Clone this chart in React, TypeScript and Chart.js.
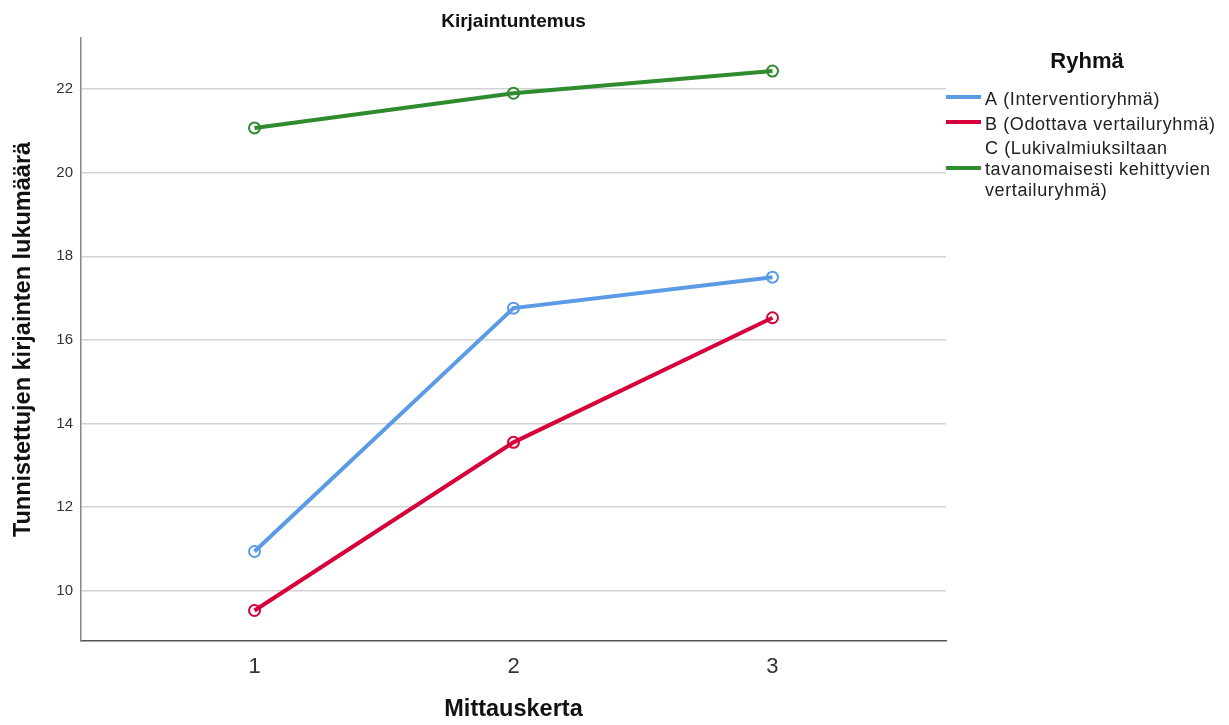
import React, { useEffect, useRef } from "react";
import { Chart, registerables } from "chart.js";

Chart.register(...registerables);

const measurements = [1, 2, 3];
const groupA = [10.94, 16.76, 17.5];
const groupB = [9.53, 13.55, 16.53];
const groupC = [21.07, 21.9, 22.43];

const seriesLabels = [
  ["A (Interventioryhmä)"],
  ["B (Odottava vertailuryhmä)"],
  ["C (Lukivalmiuksiltaan", "tavanomaisesti kehittyvien", "vertailuryhmä)"],
];
const seriesColors = ["#5b9be6", "#d6003a", "#2e8b2e"];
const titleText = "Kirjaintuntemus";
const legendTitle = "Ryhmä";
const xTitle = "Mittauskerta";
const yTitle = "Tunnistettujen kirjainten lukumäärä";
const yMin = 8.8;
const yMax = 23.22;
const xMin = 0.33;
const xMax = 3.67;

const FONT = "'Liberation Sans', Arial, sans-serif";

const overlayPlugin = {
  id: "overlay",
  afterDraw(chart: any) {
    const ctx = chart.ctx;
    const area = chart.chartArea;
    ctx.save();
    // title
    ctx.fillStyle = "#111";
    ctx.font = `bold 19px ${FONT}`;
    ctx.textAlign = "center";
    ctx.textBaseline = "middle";
    ctx.fillText(titleText, (area.left + area.right) / 2, 22);

    // legend title
    ctx.font = `bold 22px ${FONT}`;
    ctx.fillText(legendTitle, 1087, 62);

    // legend items
    const lineYs = [97, 122, 168];
    const textYs = [[100], [125], [149, 170, 191]];
    ctx.textAlign = "left";
    ctx.font = `18px ${FONT}`;
    try {
      (ctx as any).letterSpacing = "0.6px";
    } catch (e) {}
    seriesLabels.forEach((lines, i) => {
      ctx.strokeStyle = seriesColors[i];
      ctx.lineWidth = 4;
      ctx.beginPath();
      ctx.moveTo(946, lineYs[i]);
      ctx.lineTo(981, lineYs[i]);
      ctx.stroke();
      ctx.fillStyle = "#222";
      lines.forEach((t, j) => {
        ctx.fillText(t, 985, textYs[i][j]);
      });
    });
    try {
      (ctx as any).letterSpacing = "0px";
    } catch (e) {}
    ctx.restore();
  },
};

export default function App() {
  const ref = useRef<HTMLCanvasElement | null>(null);
  useEffect(() => {
    if (!ref.current) return;
    const mk = (vals: number[], i: number) => ({
      label: seriesLabels[i].join(" "),
      data: measurements.map((m, k) => ({ x: m, y: vals[k] })),
      borderColor: seriesColors[i],
      backgroundColor: seriesColors[i],
      borderWidth: 4,
      pointRadius: 5.5,
      pointBorderWidth: 2,
      pointBackgroundColor: "rgba(255,255,255,0)",
      pointBorderColor: seriesColors[i],
      tension: 0,
    });
    const chart = new Chart(ref.current, {
      type: "line",
      data: {
        datasets: [mk(groupA, 0), mk(groupB, 1), mk(groupC, 2)],
      },
      plugins: [overlayPlugin],
      options: {
        animation: false,
        responsive: false,
        devicePixelRatio: 1,
        layout: { padding: { top: 38, right: 283, left: 0, bottom: 0 } },
        plugins: {
          legend: { display: false },
          title: { display: false },
          tooltip: { enabled: false },
        },
        scales: {
          x: {
            type: "linear",
            min: xMin,
            max: xMax,
            afterFit: (s: any) => {
              s.height = 84;
            },
            grid: { display: false, drawTicks: false },
            border: { display: true, color: "#555", width: 1.5 },
            ticks: {
              stepSize: 1,
              includeBounds: false,
              padding: 13,
              color: "#333",
              font: { family: FONT, size: 22 },
            },
            title: {
              display: true,
              text: xTitle,
              color: "#111",
              font: { family: FONT, size: 23.5, weight: "bold" },
              padding: { top: 0, bottom: 1 },
            },
          },
          y: {
            type: "linear",
            min: yMin,
            max: yMax,
            afterFit: (s: any) => {
              s.width = 81;
            },
            grid: { color: "#d2d2d2", lineWidth: 1.5, drawTicks: false },
            border: { display: true, color: "#888", width: 1.5 },
            ticks: {
              stepSize: 2,
              includeBounds: false,
              padding: 8,
              color: "#333",
              font: { family: FONT, size: 15 },
            },
            title: {
              display: true,
              text: yTitle,
              color: "#111",
              font: { family: FONT, size: 23.5, weight: "bold" },
              padding: { top: 9, bottom: 0 },
            },
          },
        },
      },
    } as any);
    return () => chart.destroy();
  }, []);
  return (
    <div style={{ position: "absolute", left: 0, top: 0, width: 1229, height: 725, background: "#fff" }}>
      <canvas ref={ref} width={1229} height={725} />
    </div>
  );
}
